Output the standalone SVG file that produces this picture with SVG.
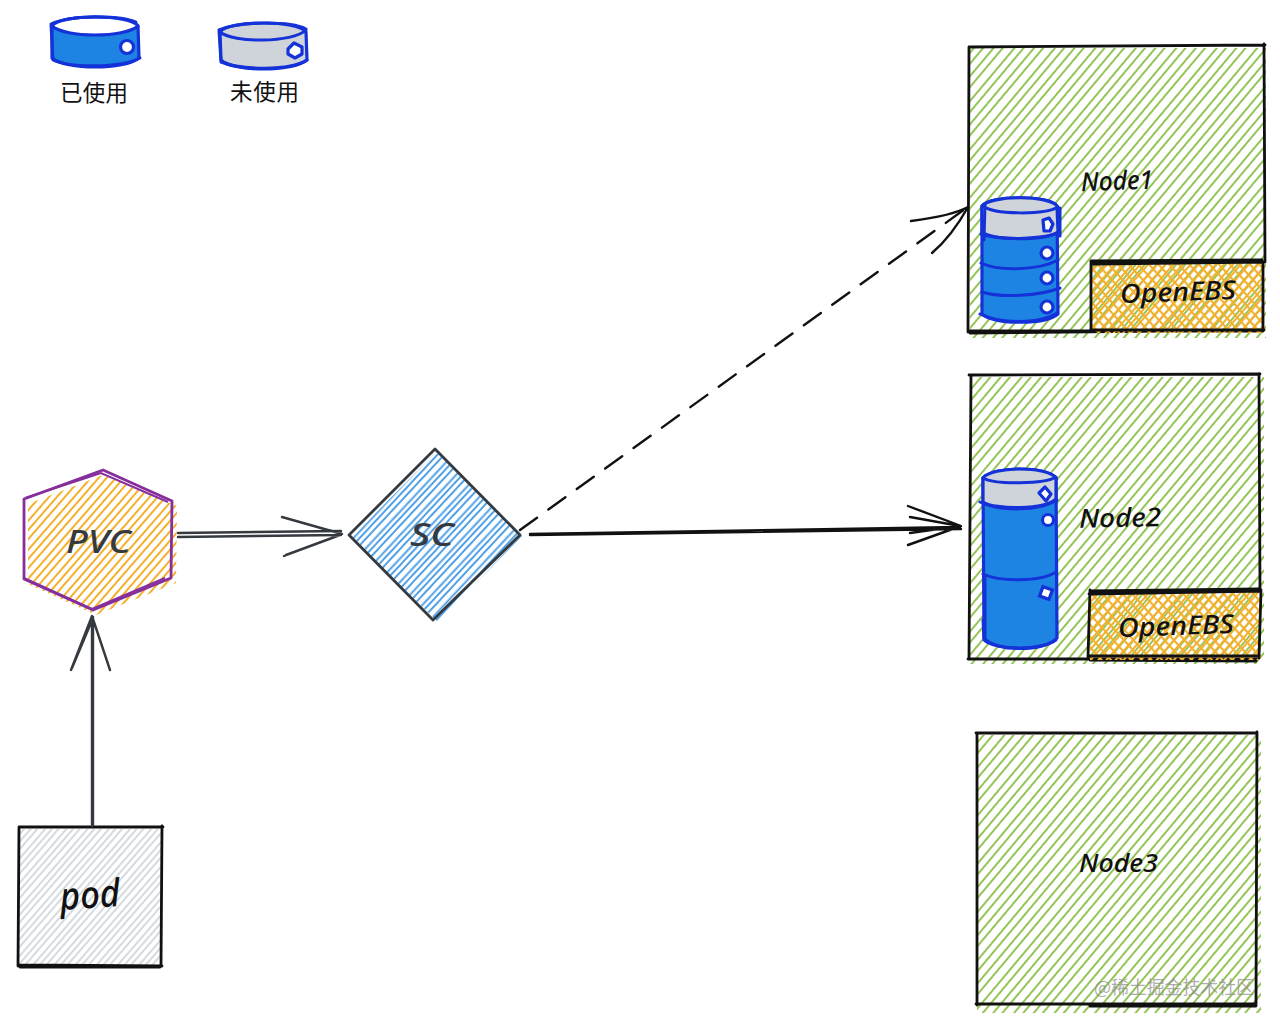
<svg xmlns="http://www.w3.org/2000/svg" width="1280" height="1024" viewBox="0 0 1280 1024">
<style>
.ink{fill:none;stroke:#111;stroke-width:2.4;stroke-linecap:round;stroke-linejoin:round}
.ink2{fill:none;stroke:#343a40;stroke-width:2.4;stroke-linecap:round;stroke-linejoin:round}
.frame{fill:none;stroke:#111;stroke-width:2.8;stroke-linecap:round}
.can{stroke:#1432d8;stroke-width:3.2;stroke-linejoin:round;stroke-linecap:round}
.rim{fill:none;stroke:#1432d8;stroke-width:3;stroke-linecap:round}
.blue{fill:#1e84e4}
.grey{fill:#ced4da}
.hole{fill:#fff;stroke:#1432d8;stroke-width:3.2}
.hand{font-family:"Noto Sans","Liberation Sans",sans-serif;font-style:italic;font-weight:500;fill:#111}
.cjk{font-family:"Noto Sans CJK SC","Noto Sans",sans-serif;font-size:22.5px;fill:#111}
</style>
<defs>
<pattern id="hg" width="31" height="70" patternUnits="userSpaceOnUse" patternTransform="rotate(40)">
<path d="M2,0V70M9,0V70M17,0V70M24,0V70" stroke="#8fc24f" stroke-width="1.9" fill="none"/>
</pattern>
<pattern id="ho" width="19" height="70" patternUnits="userSpaceOnUse" patternTransform="rotate(41)">
<path d="M2,0V70M8,0V70M14,0V70" stroke="#f4b02c" stroke-width="2" fill="none"/>
</pattern>
<pattern id="hx" width="15" height="70" patternUnits="userSpaceOnUse" patternTransform="rotate(-42)">
<path d="M2,0V70M9,0V70" stroke="#f4b02c" stroke-width="2.2" fill="none"/>
</pattern>
<pattern id="hb" width="16" height="70" patternUnits="userSpaceOnUse" patternTransform="rotate(43)">
<path d="M1.5,0V70M6,0V70M11,0V70" stroke="#3f97e4" stroke-width="1.8" fill="none"/>
</pattern>
<pattern id="hs" width="16" height="70" patternUnits="userSpaceOnUse" patternTransform="rotate(41)">
<path d="M2,0V70M7,0V70M12,0V70" stroke="#ced4da" stroke-width="1.7" fill="none"/>
</pattern>
</defs>

<g id="legend-used">
<path class="can blue" d="M52,26C60,14 130,14 138,26L139,58C125,70 65,70 52,58Z"/>
<path class="can" fill="#fff" d="M52,26C60,14 130,14 138,26C125,38 65,38 52,26Z"/>
<path class="rim" d="M51,24C70,15 120,15 136,22M53,60C70,68 120,68 140,58M51,25L53,60"/>
<circle class="hole" cx="127" cy="47" r="6.5"/>
<text class="cjk" x="60" y="101" textLength="68">已使用</text>
</g>
<g id="legend-unused">
<path class="can grey" d="M220,32C228,20 298,20 306,32L307,60C293,72 233,72 221,60Z"/>
<path class="rim" d="M220,32C233,43 293,43 306,30M219,30C240,21 290,21 306,29M221,62C240,70 290,71 307,60M219,31L221,62"/>
<path class="can" fill="#fff" d="M288,49L294,43L302,47L302,54L295,58L288,54Z"/>
<text class="cjk" x="230" y="100" textLength="69">未使用</text>
</g>

<g id="node1">
<rect x="970" y="48" width="296" height="290" fill="url(#hg)"/>
<path class="frame" d="M970,47L1265,45M1264,44L1265,262M969,47L968,332M968,331L1263,331M970,333L1262,330"/>
<text class="hand" x="1081" y="190" font-size="26" textLength="72" lengthAdjust="spacingAndGlyphs" transform="rotate(-2 1116 182)">Node1</text>
</g>
<g id="openebs1">
<rect x="1092" y="263" width="172" height="70" fill="url(#hx)"/>
<rect x="1092" y="263" width="172" height="70" fill="url(#ho)"/>
<path class="frame" d="M1091,261L1262,260M1092,264L1264,262M1091,261V331M1263,262V330M1091,330H1264"/>
<text class="hand" x="1120" y="301" font-size="26" textLength="116" lengthAdjust="spacingAndGlyphs" transform="rotate(-2 1178 292)">OpenEBS</text>
</g>
<g id="disk1">
<path class="can blue" d="M982,206C990,195 1050,195 1057,206L1058,314C1045,325 995,325 982,314Z"/>
<path class="can grey" d="M982,206C990,195 1050,195 1057,206L1058,232C1045,241 995,241 982,232Z"/>
<path class="rim" d="M983,206C995,215 1045,215 1058,207M981,234C1000,240 1040,240 1058,233M981,263C1000,272 1040,270 1058,260M982,292C1000,298 1040,296 1060,288M980,314C1000,324 1040,324 1057,313M985,204L984,240M1060,208V236"/>
<path class="can" fill="#fff" d="M1043,220L1049,218L1053,224L1050,231L1044,231Z"/>
<circle class="hole" cx="1047" cy="253" r="6"/>
<circle class="hole" cx="1047" cy="278" r="6"/>
<circle class="hole" cx="1047" cy="307" r="6"/>
</g>

<g id="node2">
<rect x="970" y="377" width="294" height="287" fill="url(#hg)"/>
<path class="frame" d="M969,375L1260,374M1259,374L1260,590M971,376L969,658M968,659L1257,659M1090,660L1256,661"/>
<text class="hand" x="1079" y="527" font-size="26" textLength="82" lengthAdjust="spacingAndGlyphs" transform="rotate(-1 1120 518)">Node2</text>
</g>
<g id="openebs2">
<rect x="1090" y="592" width="171" height="68" fill="url(#hx)"/>
<rect x="1090" y="592" width="171" height="68" fill="url(#ho)"/>
<path class="frame" d="M1090,591L1260,589M1089,594L1261,591M1090,590L1088,657M1261,590L1259,658M1088,656H1258"/>
<text class="hand" x="1118" y="635" font-size="26" textLength="116" lengthAdjust="spacingAndGlyphs" transform="rotate(-2 1176 626)">OpenEBS</text>
</g>
<g id="disk2">
<path class="can blue" d="M983,478C992,466 1048,466 1056,478L1057,638C1045,652 995,652 984,638Z"/>
<path class="can grey" d="M983,478C992,466 1048,466 1056,478L1056,499C1045,510 995,510 983,502Z"/>
<path class="rim" d="M983,478C995,485 1045,484 1056,477M980,502C1000,512 1040,511 1057,500M983,574C1000,582 1040,582 1056,572M983,620L984,640C995,650 1040,651 1056,640M985,576V640"/>
<path class="can" fill="#fff" d="M1039,493L1045,487L1051,494L1046,501Z"/>
<circle class="hole" cx="1048" cy="520" r="5.5"/>
<rect class="hole" x="1041" y="588" width="10" height="10" transform="rotate(20 1046 593)"/>
</g>

<g id="node3">
<rect x="977" y="735" width="284" height="278" fill="url(#hg)"/>
<path class="frame" d="M976,733L1257,733M1257,732L1256,1005M977,733L977,1005M976,1004L1256,1004M1090,1006L1256,1006"/>
<text class="hand" x="1079" y="872" font-size="26" textLength="79" lengthAdjust="spacingAndGlyphs">Node3</text>
</g>

<g id="pvc">
<polygon points="28,504 103,475 177,506 176,583 96,615 28,584" fill="url(#ho)"/>
<polygon points="24,499 103,470 172,501 171,578 93,610 24,579" fill="none" stroke="#862e9c" stroke-width="2.8" stroke-linejoin="round"/>
<path d="M25,498L101,473L168,502M24,578L92,609L165,578" fill="none" stroke="#862e9c" stroke-width="2"/>
<text class="hand" x="66" y="553" font-size="32" textLength="65" lengthAdjust="spacingAndGlyphs" style="fill:#343a40">PVC</text>
</g>

<g id="sc">
<polygon points="436,452 522,536 438,622 351,538" fill="url(#hb)"/>
<path d="M435,449L520,535L433,620L349,535Z" fill="none" stroke="#343a40" stroke-width="2.8" stroke-linejoin="round"/>
<text class="hand" x="410" y="546" font-size="32" textLength="44" lengthAdjust="spacingAndGlyphs" style="fill:#343a40">SC</text>
</g>

<g id="pod">
<rect x="19" y="829" width="143" height="138" fill="url(#hs)"/>
<path class="frame" d="M19,827L163,827M162,826L161,966M19,827L18,966M18,965L162,966M20,967H160"/>
<text class="hand" x="60" y="908" font-size="38" textLength="60" lengthAdjust="spacingAndGlyphs" transform="rotate(-4 90 898)">pod</text>
</g>

<g id="connectors">
<path class="ink2" d="M93,825V617M92,826L92,620M71,670L92,616L110,670M72,668L93,618"/>
<path class="ink2" d="M178,533L341,531M178,537L341,535M282,517L342,534L284,556M286,555L340,535"/>
<path class="ink" d="M530,534L960,527M530,535L961,529M908,506L961,526L908,545M910,517L960,526L910,533"/>
<path class="ink" stroke-dasharray="21 14" d="M520,530L965,209"/>
<path class="ink" d="M911,221C935,218 955,214 968,207C958,225 945,242 932,253"/>
</g>

<g id="watermark">
<text x="1094" y="994" font-family="'Noto Sans CJK SC','Noto Sans',sans-serif" font-size="18" textLength="160" fill="#8a8a8a" fill-opacity="0.7">@稀土掘金技术社区</text>
</g>
</svg>
